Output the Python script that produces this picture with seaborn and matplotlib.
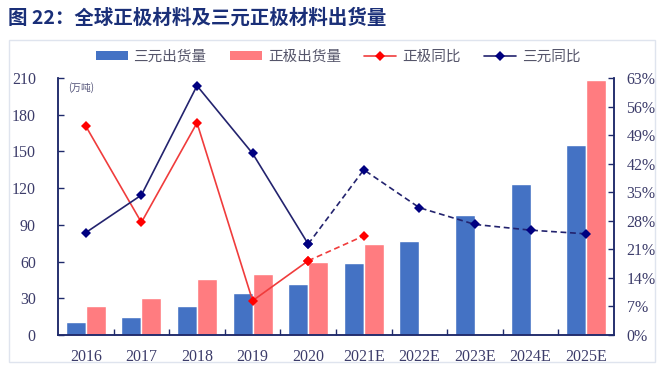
import numpy as np
import pandas as pd
import matplotlib.pyplot as plt
import seaborn as sns
from matplotlib.lines import Line2D
from matplotlib.patches import Patch, Rectangle
from matplotlib.ticker import FixedLocator, FuncFormatter

# ---- data ----
years = ['2016', '2017', '2018', '2019', '2020', '2021E', '2022E', '2023E', '2024E', '2025E']
ncm_ship = [10.5, 14.5, 23.5, 34, 41.5, 58.5, 77, 98, 123.5, 155]          # 三元出货量 (万吨)
cathode_ship = [23.5, 30, 46, 50, 59.5, 74.5, np.nan, np.nan, np.nan, 208.5]  # 正极出货量 (万吨)
cathode_yoy = [51.2, 27.6, 52.0, 8.4, 18.2, 24.3]                        # 正极同比 (%)
ncm_yoy = [25.1, 34.3, 61.1, 44.5, 22.3, 40.5, 31.2, 27.1, 25.7, 24.8]   # 三元同比 (%)
n_actual = 5  # 2016-2020 actual, later years are estimates (dashed)

BLUE = '#4472c4'
PINK = '#ff7c80'
RED = '#ff0000'
NAVY = '#000080'
SPINE = '#1f2a6b'
TXT = '#3c3c6a'

sns.set_theme(style='white')
plt.rcParams['font.family'] = ['Noto Sans CJK SC', 'DejaVu Sans']

fig = plt.figure(figsize=(6.59, 3.67), dpi=100)
ax = fig.add_axes([58 / 659, 1 - 335 / 367, 556 / 659, 257 / 367])

# light frame around the chart region
fig.patches.append(Rectangle((9 / 659, 1 - 362 / 367), 646 / 659, 322 / 367,
                             transform=fig.transFigure, fill=False,
                             edgecolor='#dfe4ee', linewidth=1.0))

df = pd.DataFrame({
    'year': years * 2,
    'series': ['三元出货量'] * len(years) + ['正极出货量'] * len(years),
    'value': ncm_ship + cathode_ship,
})
sns.barplot(data=df, x='year', y='value', hue='series', order=years,
            hue_order=['三元出货量', '正极出货量'], palette=[BLUE, PINK],
            width=0.72, saturation=1, errorbar=None, legend=False, ax=ax)

ax.set_xlim(-0.5, len(years) - 0.5)
ax.set_ylim(0, 210)
ax.set_yticks(np.arange(0, 211, 30))
ax.set_xlabel('')
ax.set_ylabel('')

# ---- growth-rate lines on a twin axis ----
ax2 = ax.twinx()
pos = np.arange(len(years))
sns.lineplot(x=pos[:n_actual], y=cathode_yoy[:n_actual], ax=ax2, color='#f03c3c',
             linewidth=1.2, marker='D', markersize=5.5, markerfacecolor=RED,
             markeredgewidth=0)
sns.lineplot(x=pos[n_actual - 1:len(cathode_yoy)], y=cathode_yoy[n_actual - 1:], ax=ax2,
             color='#f03c3c', linewidth=1.2, linestyle=(0, (3.5, 2.2)), marker='D',
             markersize=5.5, markerfacecolor=RED, markeredgewidth=0)
sns.lineplot(x=pos[:n_actual], y=ncm_yoy[:n_actual], ax=ax2, color='#23236e',
             linewidth=1.2, marker='D', markersize=5.5, markerfacecolor=NAVY,
             markeredgewidth=0)
sns.lineplot(x=pos[n_actual - 1:], y=ncm_yoy[n_actual - 1:], ax=ax2, color='#23236e',
             linewidth=1.2, linestyle=(0, (3.5, 2.2)), marker='D', markersize=5.5,
             markerfacecolor=NAVY, markeredgewidth=0)
ax2.set_ylim(0, 63)
ax2.set_yticks(np.arange(0, 64, 7))
ax2.yaxis.set_major_formatter(FuncFormatter(lambda v, p: f'{v:.0f}%'))
ax2.set_xlim(-0.5, len(years) - 0.5)

# ---- spines and ticks ----
for a in (ax, ax2):
    for s in a.spines.values():
        s.set_color(SPINE)
        s.set_linewidth(1.1)
    a.spines['top'].set_visible(False)
    a.grid(False)

ax.tick_params(axis='y', direction='in', length=4, color=SPINE, width=1,
               labelsize=11.5, labelcolor=TXT, pad=16, left=True)
ax2.tick_params(axis='y', direction='in', length=4, color=SPINE, width=1,
                labelsize=11.5, labelcolor=TXT, pad=9, right=True)
ax.tick_params(axis='x', length=0, labelsize=11.5, labelcolor=TXT, pad=10)
ax.xaxis.set_minor_locator(FixedLocator(np.arange(0.5, len(years) - 1, 1)))
ax.tick_params(axis='x', which='minor', direction='in', length=4, color=SPINE,
               width=1, bottom=True)
for lab in ax.get_xticklabels() + ax.get_yticklabels() + ax2.get_yticklabels():
    lab.set_family('Liberation Serif')

ax.text(0.018, 0.962, '(万吨)', transform=ax.transAxes, fontsize=7,
        color='#55557a', va='center', ha='left')

# ---- legend ----
handles = [
    Patch(facecolor=BLUE, edgecolor='none'),
    Patch(facecolor=PINK, edgecolor='none'),
    Line2D([], [], color='#f03c3c', marker='D', markersize=5, markerfacecolor=RED,
           markeredgewidth=0, linewidth=1.2),
    Line2D([], [], color='#23236e', marker='D', markersize=5, markerfacecolor=NAVY,
           markeredgewidth=0, linewidth=1.2),
]
labels = ['三元出货量', '正极出货量', '正极同比', '三元同比']
fig.legend(handles, labels, loc='center', bbox_to_anchor=(0.513, 1 - 57 / 367),
           ncol=4, frameon=False, fontsize=10.5, labelcolor='#55556a',
           handlelength=2.2, handleheight=0.6, columnspacing=1.6, handletextpad=0.4)

fig.text(8 / 659, 1 - 18 / 367, '图 22：全球正极材料及三元正极材料出货量',
         fontsize=14, fontweight='bold', color='#1a2f78', va='center', ha='left')

fig.savefig('out.png', dpi=100)
